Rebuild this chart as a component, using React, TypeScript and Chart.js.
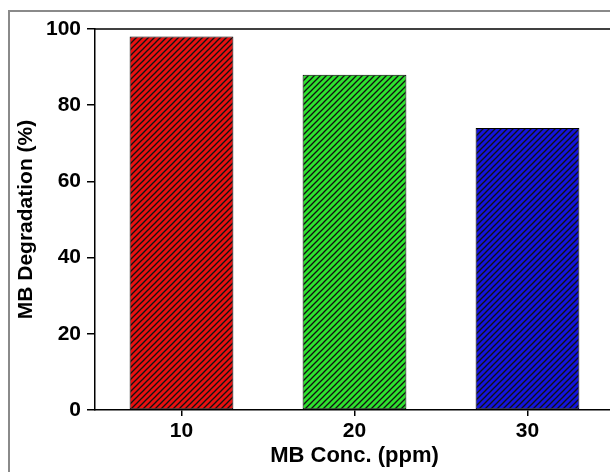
import React, { useEffect, useRef } from "react";
import { Chart, registerables } from "chart.js";

Chart.register(...registerables);

const categories = ["10", "20", "30"];
const degradation = [98, 88, 74];
const barColors = ["#e81010", "#2ee22e", "#1414dc"];
const yMin = 0;
const yMax = 100;
const yStep = 20;
const xTitle = "MB Conc. (ppm)";
const yTitle = "MB Degradation (%)";

const FONT = '"Liberation Sans", Arial, Helvetica, sans-serif';

function makeHatch(color: string) {
  const s = 6;
  const c = document.createElement("canvas");
  c.width = s;
  c.height = s;
  const g = c.getContext("2d")!;
  g.fillStyle = color;
  g.fillRect(0, 0, s, s);
  g.strokeStyle = "#111";
  g.lineWidth = 1.3;
  g.beginPath();
  g.moveTo(0, s);
  g.lineTo(s, 0);
  g.moveTo(-s / 2, s / 2);
  g.lineTo(s / 2, -s / 2);
  g.moveTo(s / 2, s * 1.5);
  g.lineTo(s * 1.5, s / 2);
  g.stroke();
  return g.createPattern(c, "repeat")!;
}

const framePlugin = {
  id: "frame",
  beforeDraw(chart: any) {
    const { ctx, width, height } = chart;
    ctx.save();
    ctx.fillStyle = "#ffffff";
    ctx.fillRect(0, 0, width, height);
    ctx.restore();
  },
  afterDraw(chart: any) {
    const { ctx, chartArea } = chart;
    ctx.save();
    ctx.fillStyle = "#8a8a8a";
    ctx.fillRect(8, 10, 2, 480);
    ctx.fillRect(8, 10, 640, 2);
    ctx.strokeStyle = "#000";
    ctx.lineWidth = 1.5;
    ctx.beginPath();
    ctx.moveTo(chartArea.left, chartArea.top);
    ctx.lineTo(chartArea.right + 10, chartArea.top);
    ctx.stroke();
    ctx.restore();
  },
};

export default function App() {
  const ref = useRef<HTMLCanvasElement>(null);
  useEffect(() => {
    if (!ref.current) return;
    const chart = new Chart(ref.current, {
      type: "bar",
      data: {
        labels: categories,
        datasets: [
          {
            data: degradation,
            backgroundColor: barColors.map(makeHatch),
            borderColor: "#000",
            borderWidth: 1,
            borderSkipped: false,
            barPercentage: 0.6,
            categoryPercentage: 1,
          },
        ],
      },
      options: {
        responsive: false,
        animation: false,
        devicePixelRatio: 1,
        layout: { padding: { left: 0, top: 29, right: 6, bottom: 0 } },
        plugins: { legend: { display: false }, tooltip: { enabled: false } },
        scales: {
          x: {
            offset: true,
            grid: {
              display: true,
              drawOnChartArea: false,
              drawTicks: true,
              tickLength: 6,
              color: "#000",
              lineWidth: 1.5,
              offset: false,
            },
            border: { display: true, color: "#000", width: 1.5 },
            ticks: {
              color: "#000",
              padding: 3,
              font: { family: FONT, weight: "bold", size: 21 },
            },
            title: {
              display: true,
              text: xTitle,
              color: "#000",
              padding: { top: 0, bottom: 3 },
              font: { family: FONT, weight: "bold", size: 22 },
            },
            afterFit(scale: any) {
              scale.height = 62;
            },
          },
          y: {
            min: yMin,
            max: yMax,
            ticks: {
              stepSize: yStep,
              color: "#000",
              padding: 6,
              font: { family: FONT, weight: "bold", size: 21 },
            },
            grid: {
              display: true,
              drawOnChartArea: false,
              drawTicks: true,
              tickLength: 8,
              color: "#000",
              lineWidth: 1.5,
            },
            border: { display: true, color: "#000", width: 1.5 },
            title: {
              display: true,
              text: yTitle,
              color: "#000",
              padding: { top: 14, bottom: 0 },
              font: { family: FONT, weight: "bold", size: 21 },
            },
            afterFit(scale: any) {
              scale.width = 95;
            },
          },
        },
      },
      plugins: [framePlugin],
    });
    return () => chart.destroy();
  }, []);
  return (
    <div
      style={{
        position: "fixed",
        left: 0,
        top: 0,
        width: 610,
        height: 472,
        overflow: "hidden",
        background: "#fff",
      }}
    >
      <canvas
        ref={ref}
        width={620}
        height={472}
        style={{ width: 620, height: 472, display: "block" }}
      />
    </div>
  );
}
